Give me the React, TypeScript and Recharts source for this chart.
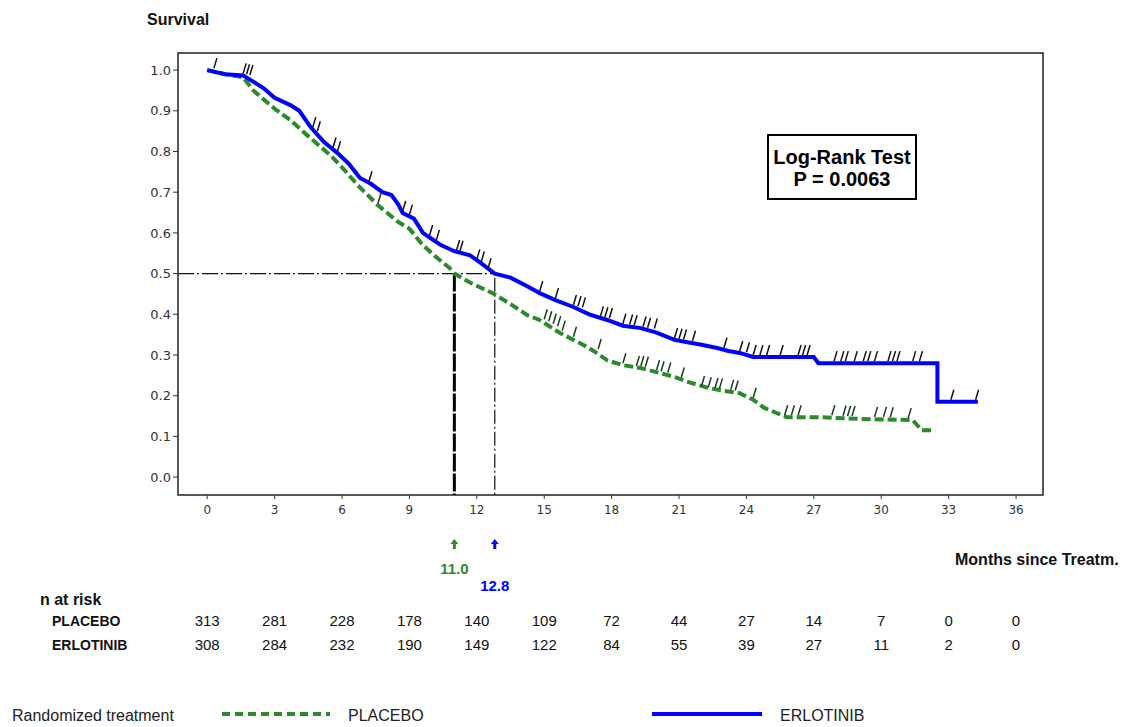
import React from "react";
import {
  ComposedChart,
  Line,
  Scatter,
  XAxis,
  YAxis,
  ReferenceLine,
  ReferenceArea,
} from "recharts";

// axis ticks
const monthTicks = [0, 3, 6, 9, 12, 15, 18, 21, 24, 27, 30, 33, 36];
const survivalTicks = [0, 0.1, 0.2, 0.3, 0.4, 0.5, 0.6, 0.7, 0.8, 0.9, 1.0];

// numbers at risk, one per month tick
const placeboAtRisk = [313, 281, 228, 178, 140, 109, 72, 44, 27, 14, 7, 0, 0];
const erlotinibAtRisk = [308, 284, 232, 190, 149, 122, 84, 55, 39, 27, 11, 2, 0];

// Kaplan-Meier curves
const placeboMonths = [
  0, 0.8, 1.6, 2.05, 3.0, 3.7, 4.45, 5.5, 6.1, 6.7, 7.6, 8.5, 9.0, 9.6, 10.2,
  10.8, 11.0, 11.8, 12.7, 13.5, 14.25, 14.8, 15.7, 16.6, 17.2, 17.8, 18.5,
  19.3, 20.0, 20.8, 21.5, 22.3, 23.0, 23.7, 24.3, 24.8, 25.8, 27.3, 29.0,
  31.4, 31.8, 32.4,
];
const placeboSurvival = [
  1.0, 0.99, 0.982, 0.95, 0.905, 0.877, 0.84, 0.79, 0.755, 0.717, 0.668,
  0.627, 0.61, 0.57, 0.54, 0.513, 0.5, 0.475, 0.452, 0.425, 0.398, 0.386,
  0.354, 0.329, 0.31, 0.287, 0.275, 0.268, 0.258, 0.246, 0.232, 0.219, 0.212,
  0.206, 0.19, 0.17, 0.147, 0.147, 0.143, 0.14, 0.115, 0.115,
];

const erlotinibMonths = [
  0, 0.8, 1.6, 2.5, 3.0, 3.7, 4.1, 4.6, 5.2, 5.8, 6.3, 6.8, 7.3, 7.8, 8.2,
  8.5, 8.7, 9.2, 9.6, 10.0, 10.4, 11.0, 11.7, 12.2, 12.8, 13.5, 14.2, 14.8,
  15.5, 16.3, 17.0, 17.8, 18.5, 19.3, 20.0, 20.8, 21.5, 22.0, 22.7, 23.2,
  23.7, 24.3, 25.0, 26.0, 27.0, 27.2, 32.5, 32.5, 34.3,
];
const erlotinibSurvival = [
  1.0, 0.99, 0.987, 0.956, 0.932, 0.914, 0.9, 0.86, 0.823, 0.796, 0.77, 0.735,
  0.72, 0.7, 0.693, 0.67, 0.649, 0.635, 0.6, 0.585, 0.57, 0.555, 0.545,
  0.525, 0.5, 0.49, 0.47, 0.452, 0.435, 0.418, 0.4, 0.386, 0.372, 0.366,
  0.355, 0.337, 0.33, 0.325, 0.317, 0.31, 0.305, 0.295, 0.295, 0.295, 0.295,
  0.28, 0.28, 0.185, 0.185,
];

// censored observations (tick marks)
const placeboCensorMonths = [
  7.6, 15.0, 15.2, 15.4, 15.6, 15.8, 16.3, 17.4, 18.5, 19.1, 19.3, 19.5, 20.0,
  20.2, 20.5, 21.1, 22.0, 22.3, 22.6, 22.8, 23.3, 23.5, 24.3, 25.7, 26.0,
  26.3, 27.8, 28.3, 28.5, 28.7, 29.7, 30.1, 30.4, 31.2,
];
const placeboCensorSurvival = [
  0.668, 0.383, 0.378, 0.372, 0.366, 0.355, 0.34, 0.31, 0.275, 0.268, 0.268,
  0.266, 0.258, 0.255, 0.252, 0.24, 0.219, 0.216, 0.214, 0.213, 0.21, 0.208,
  0.19, 0.147, 0.147, 0.147, 0.147, 0.146, 0.145, 0.145, 0.143, 0.143, 0.142,
  0.14,
];
const erlotinibCensorMonths = [
  0.3, 1.6, 1.75, 1.9, 4.7, 4.9, 5.6, 5.8, 7.2, 8.7, 9.0, 9.9, 10.2, 11.1,
  11.25, 12.0, 12.2, 12.5, 14.8, 15.5, 16.3, 16.5, 16.7, 17.5, 17.7, 17.9,
  18.5, 18.8, 19.0, 19.4, 19.6, 19.9, 20.8, 21.0, 21.2, 21.6, 23.0, 23.7,
  24.0, 24.3, 24.6, 24.9, 25.5, 26.3, 26.5, 26.7, 27.9, 28.2, 28.4, 28.8,
  29.2, 29.4, 29.7, 30.3, 30.5, 30.7, 31.4, 31.7, 33.1, 34.2,
];
const erlotinibCensorSurvival = [
  1.0, 0.987, 0.985, 0.983, 0.855, 0.845, 0.805, 0.796, 0.722, 0.649, 0.64,
  0.59, 0.578, 0.553, 0.551, 0.53, 0.525, 0.508, 0.452, 0.435, 0.418, 0.415,
  0.412, 0.39, 0.388, 0.386, 0.372, 0.37, 0.368, 0.365, 0.362, 0.36, 0.337,
  0.335, 0.333, 0.33, 0.313, 0.305, 0.302, 0.295, 0.295, 0.295, 0.295, 0.295,
  0.295, 0.295, 0.28, 0.28, 0.28, 0.28, 0.28, 0.28, 0.28, 0.28, 0.28, 0.28,
  0.28, 0.28, 0.185, 0.185,
];

const placeboMedian = 11.0;
const erlotinibMedian = 12.8;
const logRankP = "0.0063";

const X_DOMAIN = [-1.3, 37.2];
const Y_DOMAIN = [-0.044, 1.042];

const BLUE = "#0000ff";
const GREEN = "#2b8a2b";
const SANS = '"Liberation Sans", Arial, sans-serif';
const PLAIN = '"DejaVu Sans", sans-serif';

const zip = (ms: number[], ss: number[]) => ms.map((m, i) => ({ m, s: ss[i] }));

const placeboData = zip(placeboMonths, placeboSurvival);
const erlotinibData = zip(erlotinibMonths, erlotinibSurvival);
const placeboCensor = zip(placeboCensorMonths, placeboCensorSurvival);
const erlotinibCensor = zip(erlotinibCensorMonths, erlotinibCensorSurvival);

function CensorMark(props: any) {
  const { cx, cy, fill } = props;
  if (cx == null || cy == null) return null;
  return (
    <line x1={cx} y1={cy - 2} x2={cx + 3} y2={cy - 12} stroke={fill} strokeWidth={1.5} />
  );
}

function MonthTick(props: any) {
  const { x, y, payload } = props;
  const i = monthTicks.indexOf(payload.value);
  const riskStyle = { fontFamily: SANS, fontSize: 15, fill: "#111" };
  return (
    <g>
      <text x={x} y={y + 13} textAnchor="middle" fontFamily={PLAIN} fontSize={12} fill="#333">
        {payload.value}
      </text>
      <text x={x} y={y + 125} textAnchor="middle" {...riskStyle}>
        {placeboAtRisk[i]}
      </text>
      <text x={x} y={y + 149} textAnchor="middle" {...riskStyle}>
        {erlotinibAtRisk[i]}
      </text>
    </g>
  );
}

function MedianMark(props: any) {
  const { viewBox, color, text, drop } = props;
  if (!viewBox) return null;
  const x = viewBox.x + (viewBox.width || 0) / 2;
  const bottom = viewBox.y + viewBox.height;
  const ay = bottom + 44;
  return (
    <g>
      <path d={`M${x},${ay} L${x - 4},${ay + 5} L${x + 4},${ay + 5} Z`} fill={color} />
      <line x1={x} y1={ay + 4} x2={x} y2={ay + 10} stroke={color} strokeWidth={3} />
      <text
        x={x}
        y={bottom + 79 + drop}
        textAnchor="middle"
        fontFamily={SANS}
        fontWeight="bold"
        fontSize={15}
        fill={color}
      >
        {text}
      </text>
    </g>
  );
}

const abs = (left: number, top: number, extra: React.CSSProperties = {}): React.CSSProperties => ({
  position: "absolute",
  left,
  top,
  whiteSpace: "nowrap",
  ...extra,
});

const boldLabel: React.CSSProperties = {
  fontFamily: SANS,
  fontWeight: "bold",
  fontSize: 16,
  color: "#111",
  lineHeight: "18px",
};

const rowLabel: React.CSSProperties = { ...boldLabel, fontSize: 14 };
const legendText: React.CSSProperties = { fontFamily: SANS, fontSize: 16, color: "#222", lineHeight: "18px" };

export default function App() {
  return (
    <div style={{ position: "absolute", left: 0, top: 0, width: 1137, height: 727, background: "#fff" }}>
      <ComposedChart width={1137} height={727} margin={{ top: 53, right: 94, left: 128, bottom: 202 }}>
        <XAxis
          type="number"
          dataKey="m"
          domain={X_DOMAIN}
          ticks={monthTicks}
          interval={0}
          allowDataOverflow
          axisLine={false}
          tickSize={4}
          tickLine={{ stroke: "#333" }}
          tick={<MonthTick />}
          height={30}
        />
        <YAxis
          type="number"
          domain={Y_DOMAIN}
          ticks={survivalTicks}
          allowDataOverflow
          width={50}
          axisLine={false}
          tickSize={5}
          tickLine={{ stroke: "#333" }}
          tickFormatter={(v: number) => v.toFixed(1)}
          tick={{ fontSize: 13, fill: "#333", fontFamily: PLAIN }}
        />
        <ReferenceArea
          x1={X_DOMAIN[0]}
          x2={X_DOMAIN[1]}
          y1={Y_DOMAIN[0]}
          y2={Y_DOMAIN[1]}
          fill="none"
          stroke="#222"
          strokeWidth={1.5}
          ifOverflow="visible"
        />
        <ReferenceLine
          segment={[
            { x: X_DOMAIN[0], y: 0.5 },
            { x: erlotinibMedian, y: 0.5 },
          ]}
          stroke="#111"
          strokeWidth={1.2}
          strokeDasharray="16 3 2 3"
          ifOverflow="visible"
        />
        <ReferenceLine
          segment={[
            { x: placeboMedian, y: 0.5 },
            { x: placeboMedian, y: Y_DOMAIN[0] },
          ]}
          stroke="#000"
          strokeWidth={3}
          strokeDasharray="18 2"
          ifOverflow="visible"
          label={<MedianMark color={GREEN} text={placeboMedian.toFixed(1)} drop={0} />}
        />
        <ReferenceLine
          segment={[
            { x: erlotinibMedian, y: 0.49 },
            { x: erlotinibMedian, y: Y_DOMAIN[0] },
          ]}
          stroke="#111"
          strokeWidth={1.2}
          strokeDasharray="14 3 2 3"
          ifOverflow="visible"
          label={<MedianMark color={BLUE} text={erlotinibMedian.toFixed(1)} drop={17} />}
        />
        <Line
          data={placeboData}
          dataKey="s"
          type="linear"
          stroke={GREEN}
          strokeWidth={4}
          strokeDasharray="9 4"
          dot={false}
          activeDot={false}
          isAnimationActive={false}
        />
        <Line
          data={erlotinibData}
          dataKey="s"
          type="linear"
          stroke={BLUE}
          strokeWidth={4}
          dot={false}
          activeDot={false}
          isAnimationActive={false}
        />
        <Scatter data={placeboCensor} dataKey="s" fill="#1e3a1e" shape={<CensorMark />} isAnimationActive={false} />
        <Scatter data={erlotinibCensor} dataKey="s" fill="#111" shape={<CensorMark />} isAnimationActive={false} />
      </ComposedChart>

      <div style={abs(147, 11, boldLabel)}>Survival</div>
      <div style={abs(955, 551, boldLabel)}>Months since Treatm.</div>
      <div style={abs(40, 591, boldLabel)}>n at risk</div>
      <div style={abs(52, 612, rowLabel)}>PLACEBO</div>
      <div style={abs(52, 636, rowLabel)}>ERLOTINIB</div>

      <div
        style={abs(767, 134, {
          width: 150,
          height: 66,
          boxSizing: "border-box",
          border: "2px solid #000",
          background: "#fff",
          fontFamily: SANS,
          fontWeight: "bold",
          fontSize: 20,
          lineHeight: "22px",
          textAlign: "center",
          paddingTop: 10,
          color: "#000",
        })}
      >
        <div>Log-Rank Test</div>
        <div>P = {logRankP}</div>
      </div>

      <div style={abs(12, 707, legendText)}>Randomized treatment</div>
      <svg style={abs(222, 710)} width={108} height={8}>
        <line x1={0} y1={4} x2={108} y2={4} stroke={GREEN} strokeWidth={4} strokeDasharray="8 5" />
      </svg>
      <div style={abs(348, 707, legendText)}>PLACEBO</div>
      <svg style={abs(652, 710)} width={110} height={8}>
        <line x1={0} y1={4} x2={110} y2={4} stroke={BLUE} strokeWidth={4} />
      </svg>
      <div style={abs(780, 707, legendText)}>ERLOTINIB</div>
    </div>
  );
}
